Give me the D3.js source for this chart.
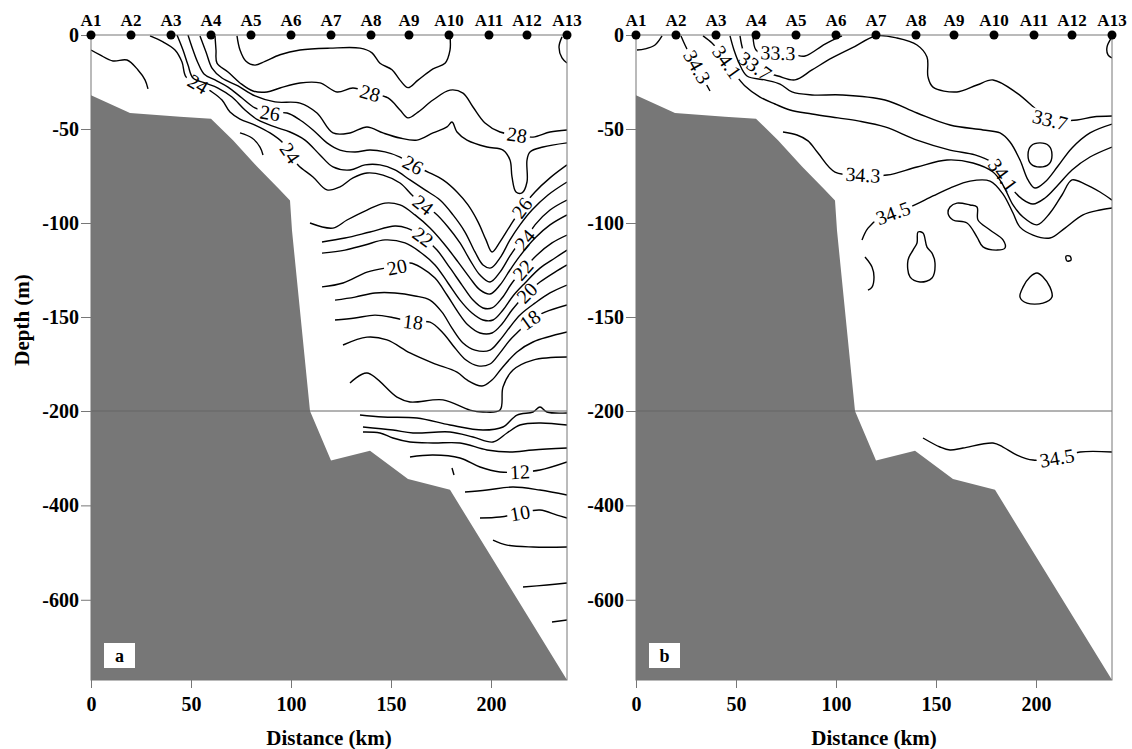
<!DOCTYPE html>
<html>
<head>
<meta charset="utf-8">
<script src="https://cdn.jsdelivr.net/npm/d3@7"></script>
<style>
    body { margin: 0; background: #fff; }
    svg text { font-family: "Liberation Serif", "Times New Roman", serif; }
</style>
</head>
<body>
<svg id="chart" width="1132" height="749"></svg>
<script>
// Stations along the section (distance in km)
const stations = ['A1', 'A2', 'A3', 'A4', 'A5', 'A6', 'A7', 'A8', 'A9', 'A10', 'A11', 'A12', 'A13'];
const stationKm = [0, 20, 40, 60, 80, 100, 120, 140, 159, 179, 199, 218, 238];

// Axis ticks
const distTicks = [0, 50, 100, 150, 200];
const depthTicks = [0, -50, -100, -150, -200, -400, -600];

// Sea floor profile [km, depth m]
const bathymetry = [[0, -32], [19.5, -41.5], [44.5, -43.5], [60, -44.5], [71, -56], [83, -70],
    [94.5, -82.5], [99.5, -88], [100.5, -104], [109.5, -200], [120, -305], [139.5, -284],
    [158.5, -344], [179.5, -367], [238, -770]];

// Panel a: temperature isolines (degC), points are [km, depth m], labels = vertex index
const tempLines = [
    {level: 25, pts: [[0, -8], [4.5, -10.6], [11, -13.8], [18, -13.3], [23.5, -18.6], [27, -23.9], [28.5, -28.7]]},
    {level: 29, pts: [[73, -0.5], [74.5, -8], [77.5, -14], [82, -16], [87, -14], [94.5, -10.5], [104.5, -8], [119.5, -7], [134.5, -7], [140.5, -9.5], [144.5, -15], [150.5, -18.5], [154.5, -24], [158.5, -28], [163.5, -24], [171, -18], [177, -15], [179.5, -8], [179.5, -0.5]]},
    {level: 28, labels: [12, 23], pts: [[62, -0.5], [62.5, -8], [63, -15], [68.5, -19.7], [74.5, -25.5], [81, -29.8], [88, -30.3], [94.5, -28.2], [104.5, -25.5], [114.5, -25.5], [123, -30.3], [131, -28.2], [139.5, -30.9], [148.5, -33.5], [154.5, -39.9], [158.5, -44.1], [163.5, -41], [171, -34.6], [179.5, -29.3], [186, -30.9], [191, -38.3], [197, -46.8], [204.5, -51.6], [213, -53.2], [221, -54.3], [229.5, -51.6], [238, -50.5]]},
    {level: 27, pts: [[54.5, -0.5], [57.5, -9], [60.5, -17.6], [65.5, -22.9], [73.5, -27.1], [82, -32.4], [92, -35.6], [104.5, -36.2], [113, -41.5], [121, -52.1], [129.5, -52.1], [138, -48.9], [146, -52.1], [154.5, -54.8], [163, -55.9], [171, -52.1], [178, -48.9], [180.5, -46.3], [183, -51.6], [188, -55.9], [198, -59.6], [206, -61.2], [209.5, -66.5], [210.5, -75.5], [212.5, -83.5], [215.5, -84], [218, -78.2], [218, -66.5], [219.5, -62.2], [226, -59.6], [238, -57.4]]},
    {level: 26, labels: [8, 18, 28], pts: [[48.5, 0], [51, -8], [53.5, -14.9], [56.5, -20.7], [62, -23.9], [68.5, -27.7], [75.5, -33.5], [82, -38.8], [89.5, -41.5], [98, -41.5], [104.5, -45.2], [111, -50.5], [118, -57.4], [124.5, -61.2], [132, -62.2], [139.5, -61.2], [147, -62.2], [154.5, -64.9], [161, -69.1], [168.5, -72.9], [176, -77.1], [183, -83.5], [188.5, -90.4], [193.5, -99.4], [197.5, -109], [200.5, -115.4], [204.5, -110], [209.5, -101.6], [215.5, -92], [222, -83.5], [229.5, -76], [238, -69.1]]},
    {level: 25, pts: [[43, 0], [46, -8], [48.5, -16], [51, -22.9], [57, -25.5], [63.5, -28.2], [70.5, -33], [77, -39.9], [83.5, -45.2], [92, -48.9], [99.5, -51.6], [107, -55.9], [114.5, -63.8], [121, -70.2], [129.5, -71.8], [137, -69.1], [144.5, -69.1], [152, -71.8], [159.5, -77.1], [167, -82.4], [174.5, -87.8], [181, -95.7], [187, -104.8], [192, -115.4], [196, -122.3], [200, -123.9], [204.5, -118.6], [209.5, -109], [214.5, -101], [220.5, -93.1], [228.5, -85.1], [238, -78.2]]},
    {level: 24, labels: [5, 13, 23, 33], pts: [[29.5, -0.5], [36, -3.7], [42, -8], [45.5, -14.4], [47.5, -22.3], [53.5, -26.1], [60.5, -30.3], [65.5, -34.6], [69.5, -41], [74.5, -44.7], [82, -47.9], [89.5, -52.1], [96, -57.4], [99.5, -62.8], [103.5, -69.1], [111, -75.5], [118, -82.4], [124.5, -80.8], [131, -76], [138, -73.4], [146, -74.5], [154.5, -78.7], [160.5, -85.1], [166, -90.4], [172, -94.7], [178.5, -102.1], [184.5, -110.6], [189.5, -119.7], [194.5, -127.7], [199.5, -131.4], [204.5, -126.1], [209.5, -117.5], [213.5, -111.7], [217, -109], [222, -101], [229.5, -93.1], [238, -87.8]]},
    {level: 23, pts: [[74.5, -52.1], [80.5, -54.8], [84.5, -59.6], [86, -63.8]]},
    {level: 23, pts: [[109.5, -100], [121, -102.7], [128, -98.4], [138, -93.1], [147, -89.4], [154.5, -90.4], [162, -95.7], [169.5, -102.7], [177, -111.7], [183.5, -120.7], [189.5, -129.3], [194.5, -135.6], [199.5, -137.8], [204.5, -133], [209.5, -125], [214.5, -117.5], [222, -108], [229.5, -101], [238, -95.7]]},
    {level: 22, labels: [5, 14], pts: [[115.5, -110.1], [127, -108], [139.5, -104.8], [152, -101.6], [158, -102.7], [166, -107.5], [173, -114.4], [179.5, -123.9], [185.5, -133], [191, -141], [196, -145.2], [200.5, -145.2], [205.5, -139.9], [210.5, -131.9], [216, -125], [223, -117], [230.5, -110.6], [238, -106.4]]},
    {level: 21, pts: [[115.5, -116], [127, -114.4], [137, -111.7], [147, -109], [157, -110.6], [164.5, -115.4], [172, -122.3], [178.5, -131.9], [184.5, -141], [190.5, -147.9], [196, -151.6], [201, -151.6], [206, -146.3], [211, -138.8], [217, -131.9], [224.5, -124], [232, -118.6], [238, -114.4]]},
    {level: 20, labels: [4, 15], pts: [[115.5, -134], [126, -131.9], [138, -126.1], [147, -124], [153, -123.4], [159.5, -121.3], [165.5, -124], [172, -129.3], [178, -138.3], [183.5, -147.4], [188.5, -154.3], [194.5, -158.5], [200.5, -158.5], [205.5, -153.7], [210.5, -146.3], [218, -137.2], [224.5, -131.4], [232, -126.1], [238, -122.3]]},
    {level: 19, pts: [[122, -141], [132, -139.4], [142, -137.2], [152, -137.2], [162, -138.8], [169.5, -141], [175.5, -147.4], [180.5, -155.9], [186, -163.8], [192, -167.6], [199.5, -167.6], [204.5, -162.2], [209.5, -155.3], [214.5, -148.9], [222, -142.6], [229.5, -137.2], [238, -133]]},
    {level: 18, labels: [4, 14], pts: [[122, -151.6], [132, -150.5], [142, -149], [152, -150.5], [161, -152.7], [169.5, -152.7], [176, -158.5], [182, -166.5], [187.5, -172.9], [193.5, -176], [199.5, -175], [204.5, -169.1], [209.5, -162.2], [214.5, -156.9], [219.5, -151.6], [227, -147.4], [238, -143.6]]},
    {level: 17, pts: [[126, -164.9], [138, -160.7], [148, -162.2], [159.5, -169.1], [171, -174.5], [183, -179.3], [188, -183.5], [195.5, -186.7], [200.5, -183.5], [205.5, -177.1], [213, -168.6], [221, -163.3], [238, -158]]},
    {level: 16, pts: [[129.5, -185.1], [138, -179.8], [153, -192.6], [159.5, -195.2], [176, -194.1], [189.5, -199.5], [196, -202.1], [204.5, -199.5], [206, -187.2], [211, -178.2], [221, -172.9], [238, -171.3]]},
    {level: 15, pts: [[134.5, -208.5], [146, -212.7], [163, -214.8], [179.5, -229.7], [196, -240.3], [206, -233.9], [213, -208.5], [221, -202.1], [224.5, -197.9], [228, -202.1], [238, -204.2]]},
    {level: 14, pts: [[136, -233.9], [151, -240.3], [161, -246.6], [179.5, -244.5], [191, -255.1], [201, -265.7], [208, -246.6], [214.5, -229.7], [224.5, -225.4], [238, -229.7]]},
    {level: 13, pts: [[136, -244.5], [144.5, -246.6], [151, -257.2], [159.5, -265.7], [171, -267.8], [184.5, -267.8], [198, -282.6], [209.5, -286.9], [221, -282.6], [238, -278.4]]},
    {level: 12, labels: [5], pts: [[159.5, -297.5], [171, -293.3], [184.5, -299.6], [194.5, -318.7], [204.5, -329.3], [214.5, -329.3], [224.5, -325.1], [238, -308.1]]},
    {level: 12, pts: [[180.5, -320.8], [181.5, -335.7]]},
    {level: 11, pts: [[187, -371.7], [198, -367.5], [211, -361.1], [224.5, -367.5], [238, -378.1]]},
    {level: 10, labels: [2], pts: [[194.5, -426.8], [204.5, -424.7], [214.5, -416.2], [224.5, -409.9], [233, -420.5], [238, -426.8]]},
    {level: 9, pts: [[201, -473.5], [208, -484.1], [221, -488.3], [238, -488.3]]},
    {level: 8, pts: [[216, -573], [228, -568.8], [238, -564.6]]},
    {level: 7, pts: [[230.5, -647], [238, -642.8]]},
    {level: 29, pts: [[235.5, -1], [234, -6.4], [235.5, -12.2], [238, -14.9]]}
];

// Panel b: salinity isolines
const salLines = [
    {level: 34.3, pts: [[0.5, -8], [4.5, -7.4], [9.5, -5.3], [13, -0.5]]},
    {level: 34.3, labels: [3], pts: [[22.5, -0.5], [24.5, -5.3], [27, -10.6], [30.5, -17], [34, -23.9], [37, -29.8]]},
    {level: 34.1, labels: [3, 17], pts: [[33.5, -0.5], [38, -4.3], [41, -8], [45.5, -14.4], [49.5, -20.7], [54.5, -27.1], [62, -33], [69.5, -36.7], [77, -39.9], [88, -42], [101, -44.1], [111, -45.7], [124.5, -48.9], [140.5, -55.9], [157, -61.2], [169.5, -63.8], [178.5, -68.1], [183.5, -74.5], [188.5, -82.4], [193, -87.2], [198.5, -89.9], [204.5, -86.7], [211, -79.8], [218, -71.8], [227, -64.9], [238, -59.6]]},
    {level: 33.9, pts: [[47, -0.5], [49, -8], [51.5, -14.9], [55.5, -21.8], [64.5, -23.9], [72, -26.1], [78, -30.3], [88, -31.9], [103, -31.9], [124.5, -34.6], [140.5, -41.5], [157, -47.9], [173.5, -50.5], [182, -52.1], [187, -56.9], [192, -66.5], [196, -77.1], [199.5, -81.4], [204.5, -78.2], [211, -69.7], [218, -60.1], [227, -52.1], [238, -47.4]]},
    {level: 33.7, labels: [3, 21], pts: [[52, -0.5], [53.5, -8], [56, -13.3], [59.5, -16.5], [64.5, -19.7], [71, -21.8], [79.5, -23.9], [88, -18.6], [98, -12.2], [108, -6.9], [120, -0.5], [130.5, -1.6], [140.5, -5.3], [145.5, -11.7], [146, -22.3], [148.5, -27.7], [160.5, -30.3], [170.5, -26.6], [178.5, -23.9], [190.5, -30.9], [200.5, -39.9], [207, -45.2], [220.5, -45.2], [228.5, -43.6], [238, -43.1]]},
    {level: 33.3, labels: [3], pts: [[58.5, -0.5], [60, -8], [64.5, -10.1], [71, -9.6], [79.5, -10.6], [84.5, -11.2], [94.5, -4.8], [103, -0.5]]},
    {level: 34.3, labels: [5], pts: [[73.5, -51.6], [80.5, -53.2], [86, -56.3], [91, -62.8], [99.5, -72.9], [113.5, -74.5], [125.5, -74.5], [140.5, -70.2], [155.5, -66.5], [168.5, -68.1], [178.5, -72.9], [183.5, -79.8], [188.5, -90.4], [193.5, -96.8], [200.5, -101], [207, -94.7], [213, -85.1], [218, -77.1], [224.5, -79.3], [232, -83.5], [238, -87.8]]},
    {level: 34.5, labels: [3], pts: [[113, -109], [116, -102.7], [122, -97.3], [128.5, -94.7], [137, -91.5], [148.5, -85.6], [157, -81.4], [167, -77.7], [177, -77.7], [183.5, -84.6], [188.5, -94.7], [192, -102.2], [198.5, -106.4], [207, -108], [214.5, -102.7], [223.5, -95.7], [232, -93.1], [238, -92]]},
    {level: 34.5, closed: true, pts: [[157, -91.5], [160.5, -89.4], [167, -90.4], [170.5, -91.5], [171, -98.4], [177, -103.7], [183.5, -109], [184.5, -113.3], [180.5, -114.4], [173.5, -112.7], [170.5, -107.5], [165.5, -100], [158.5, -98.4], [156, -94.7]]},
    {level: 34.5, closed: true, pts: [[141, -104.8], [143.5, -105.3], [145.5, -112.8], [148, -116], [149.5, -121.3], [148, -129.3], [142, -131.4], [137, -128.7], [136, -119.7], [138.5, -114.4], [140.5, -110.6]]},
    {level: 34.5, closed: true, pts: [[200.5, -126.6], [203.5, -128.7], [207, -134.1], [208, -139.4], [203.5, -142.6], [195.5, -142.6], [192, -139.4], [193.5, -134.1], [197, -128.7]]},
    {level: 34.5, closed: true, pts: [[215, -117.6], [217, -117.6], [217.5, -119.7], [215.5, -120.2]]},
    {level: 34.5, pts: [[114.5, -118.1], [118, -123.4], [119, -128.7], [118, -134.1], [116, -135.7]]},
    {level: 33.9, closed: true, pts: [[202, -57.4], [206.5, -59], [208, -63.8], [206.5, -68.6], [202, -70.2], [197.5, -68.6], [196, -63.8], [197.5, -59]]},
    {level: 33.7, pts: [[238, -1], [235.5, -6.4], [236, -10.6], [238, -12.2]]},
    {level: 34.5, labels: [8], pts: [[143.5, -257.2], [152, -276.3], [157, -282.7], [163.5, -278.4], [178.5, -267.8], [183.5, -276.3], [190.5, -293.3], [198.5, -303.9], [210.5, -299.6], [222, -286.9], [238, -286.9]]}
];

const svg = d3.select('#chart');
const defs = svg.append('defs');

const panels = [
    {key: 'a', x0: 91, x1: 567, lines: tempLines, fmt: d3.format('d'), yTitle: true},
    {key: 'b', x0: 636, x1: 1112, lines: salLines, fmt: d3.format('.1f'), yTitle: false}
];

function drawPanel(p) {
    const top = 35, bottom = 680;
    const x = d3.scaleLinear().domain([0, 238]).range([p.x0, p.x1]);
    // depth axis is broken at -200 m: upper part stretched
    const y = d3.scaleLinear().domain([0, -200, -770]).range([top, 411, bottom]);

    const g = svg.append('g');
    const clipId = 'clip-' + p.key;
    defs.append('clipPath').attr('id', clipId)
        .append('rect')
        .attr('x', p.x0).attr('y', top)
        .attr('width', p.x1 - p.x0).attr('height', bottom - top);

    const line = d3.line().x(d => x(d[0])).y(d => y(d[1])).curve(d3.curveCatmullRom.alpha(0.5));
    const ring = d3.line().x(d => x(d[0])).y(d => y(d[1])).curve(d3.curveCatmullRomClosed.alpha(0.5));

    const cg = g.append('g').attr('clip-path', `url(#${clipId})`);

    // Label placement: on a vertex, rotated along the local direction
    const labelPos = (pts, i) => {
        const a = pts[i - 1], b = pts[i + 1], c = pts[i];
        let ang = Math.atan2(y(b[1]) - y(a[1]), x(b[0]) - x(a[0])) * 180 / Math.PI;
        if (ang > 90) ang -= 180;
        if (ang < -90) ang += 180;
        return {cx: x(c[0]), cy: y(c[1]), ang: ang};
    };

    const labels = p.lines.flatMap((d, li) => (d.labels || []).map(i =>
        Object.assign({level: d.level, li: li}, labelPos(d.pts, i))));

    const labText = cg.selectAll('text.lab')
        .data(labels)
        .join('text')
            .attr('class', 'lab')
            .attr('transform', d => `translate(${d.cx},${d.cy}) rotate(${d.ang})`)
            .attr('text-anchor', 'middle')
            .attr('dy', '0.34em')
            .style('font-size', '20px')
            .attr('fill', '#000')
            .text(d => p.fmt(d.level));
    labText.each(function(d) { d.w = this.getComputedTextLength(); });

    // One mask per labelled line, so the gap only breaks that line
    p.lines.forEach((d, li) => {
        if (!d.labels) return;
        const m = defs.append('mask').attr('id', `m-${p.key}-${li}`)
            .attr('maskUnits', 'userSpaceOnUse')
            .attr('x', 0).attr('y', 0).attr('width', 1132).attr('height', 749);
        m.append('rect').attr('width', 1132).attr('height', 749).attr('fill', '#fff');
        m.selectAll('rect.cut')
            .data(labels.filter(l => l.li === li))
            .join('rect')
                .attr('class', 'cut')
                .attr('x', l => -l.w / 2 - 3).attr('y', -8)
                .attr('width', l => l.w + 6).attr('height', 16)
                .attr('transform', l => `translate(${l.cx},${l.cy}) rotate(${l.ang})`)
                .attr('fill', '#000');
    });

    // Isolines
    cg.selectAll('path.iso')
        .data(p.lines)
        .join('path')
            .attr('class', 'iso')
            .attr('d', d => (d.closed ? ring : line)(d.pts))
            .attr('mask', (d, li) => d.labels ? `url(#m-${p.key}-${li})` : null)
            .attr('fill', 'none')
            .attr('stroke', '#000')
            .attr('stroke-width', 1.4);
    labText.raise();

    // Sea floor
    const floor = [[0, -770]].concat(bathymetry, [[238, -770]]);
    g.append('path')
        .attr('d', d3.line().x(d => x(d[0])).y(d => y(d[1]))(floor) + 'Z')
        .attr('fill', '#777');

    // Scale break line at -200 m
    g.append('line')
        .attr('x1', p.x0).attr('x2', p.x1)
        .attr('y1', y(-200)).attr('y2', y(-200))
        .attr('stroke', '#666').attr('stroke-width', 1);

    // Frame
    g.append('rect')
        .attr('x', p.x0).attr('y', top)
        .attr('width', p.x1 - p.x0).attr('height', bottom - top)
        .attr('fill', 'none').attr('stroke', '#777').attr('stroke-width', 1);

    // Axes (plain hyphen for negatives, like the original)
    const yAxis = g.append('g')
        .attr('transform', `translate(${p.x0},0)`)
        .call(d3.axisLeft(y).tickValues(depthTicks).tickFormat(d => String(d)).tickSize(10).tickPadding(2));
    const xAxis = g.append('g')
        .attr('transform', `translate(0,${bottom})`)
        .call(d3.axisBottom(x).tickValues(distTicks).tickFormat(d => String(d)).tickSize(8).tickPadding(9));
    [xAxis, yAxis].forEach(ax => {
        ax.select('.domain').remove();
        ax.selectAll('line').attr('stroke', '#777');
        ax.selectAll('text')
            .attr('fill', '#000')
            .style('font-family', '"Liberation Serif", "Times New Roman", serif')
            .style('font-weight', 'bold')
            .style('font-size', '20px');
    });

    // Stations on top
    g.selectAll('circle.st')
        .data(stationKm)
        .join('circle')
            .attr('class', 'st')
            .attr('cx', d => x(d)).attr('cy', top)
            .attr('r', 4.5)
            .attr('fill', '#000');
    g.selectAll('text.st')
        .data(stations)
        .join('text')
            .attr('class', 'st')
            .attr('x', (d, i) => x(stationKm[i]))
            .attr('y', 26)
            .attr('text-anchor', 'middle')
            .style('font-weight', 'bold')
            .style('font-size', '17px')
            .text(d => d);

    // Axis titles
    g.append('text')
        .attr('x', (p.x0 + p.x1) / 2).attr('y', 745)
        .attr('text-anchor', 'middle')
        .style('font-weight', 'bold').style('font-size', '21px')
        .text('Distance (km)');
    if (p.yTitle) {
        g.append('text')
            .attr('transform', 'translate(22,320) rotate(-90)')
            .attr('text-anchor', 'middle')
            .attr('dy', '0.35em')
            .style('font-weight', 'bold').style('font-size', '21px')
            .text('Depth (m)');
    }

    // Panel tag
    g.append('rect')
        .attr('x', p.x0 + 13).attr('y', 643)
        .attr('width', 31).attr('height', 25)
        .attr('fill', '#fff');
    g.append('text')
        .attr('x', p.x0 + 28.5).attr('y', 656)
        .attr('dy', '0.35em')
        .attr('text-anchor', 'middle')
        .style('font-weight', 'bold').style('font-size', '18px')
        .text(p.key);
}

panels.forEach(drawPanel);
</script>
</body>
</html>
